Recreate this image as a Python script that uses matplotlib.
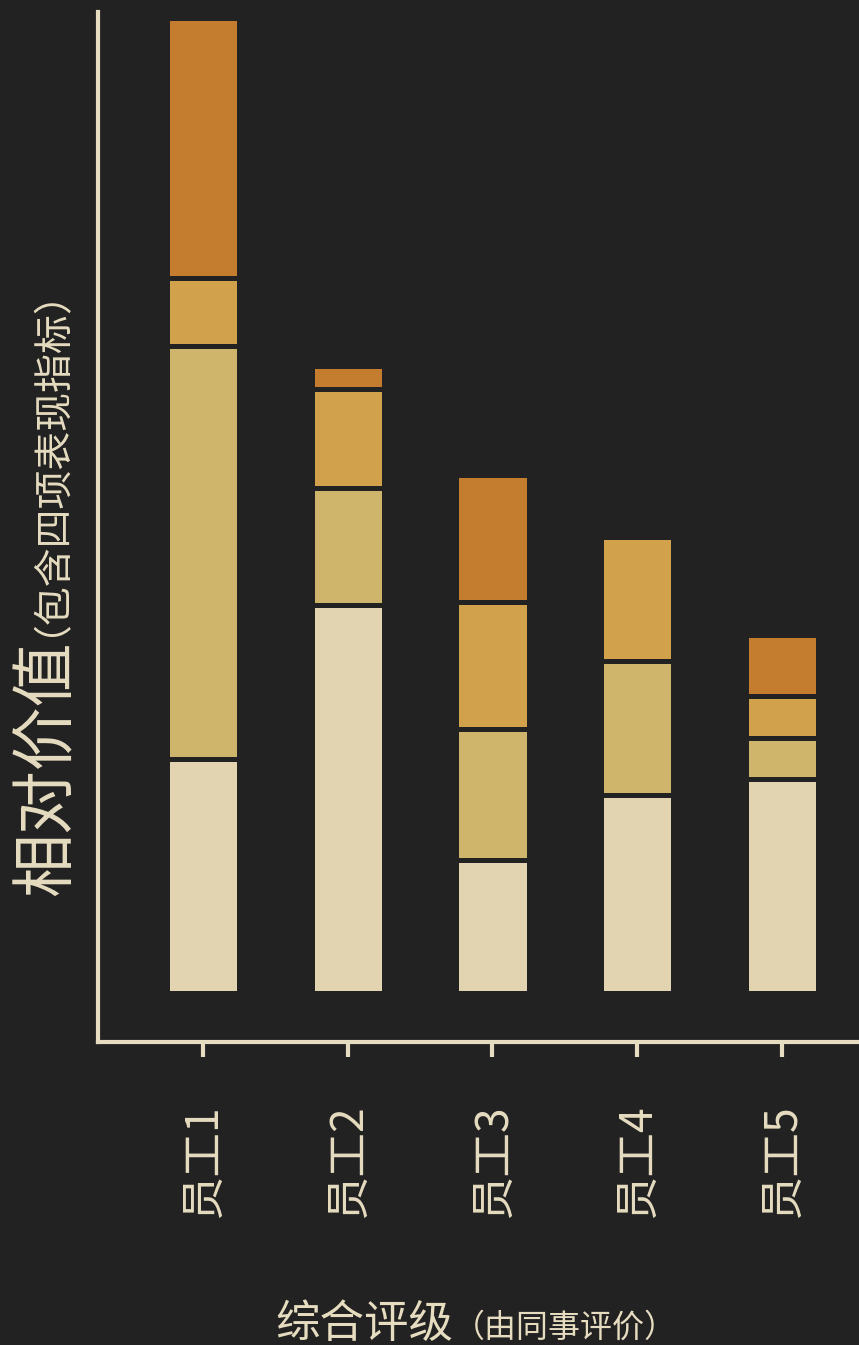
import matplotlib
matplotlib.use('Agg')
import matplotlib.pyplot as plt
import numpy as np

plt.rcParams['font.family'] = ['Noto Sans CJK SC', 'DejaVu Sans']

# data (relative values, four indicators stacked per employee)
employees = ['员工1', '员工2', '员工3', '员工4', '员工5']
part1 = [23.4, 38.8, 13.3, 19.8, 21.4]   # bottom, lightest
part2 = [41.3, 11.7, 13.1, 13.4, 4.1]
part3 = [6.8, 9.9, 12.7, 12.4, 4.2]
part4 = [26.0, 2.3, 12.7, 0.0, 6.1]      # top, orange
parts = [part1, part2, part3, part4]

bg = '#232222'
fg = '#e6dcc0'
colors = ['#e2d4b1', '#cfb56b', '#d1a14b', '#c47d2f']

W, H = 859, 1345
fig = plt.figure(figsize=(W / 100, H / 100), dpi=100)
fig.patch.set_facecolor(bg)
ax = fig.add_axes([98 / W, (H - 1042) / H, 1 - 98 / W, (1042 - 12) / H])
ax.set_facecolor(bg)

x = np.arange(len(employees))
bottom = np.zeros(len(employees))
for vals, c in zip(parts, colors):
    ax.bar(x, vals, bottom=bottom, width=0.5, color=c,
           edgecolor=bg, linewidth=3.6)
    bottom = bottom + np.array(vals)

ax.set_xlim(-0.725, 4.532)
ax.set_ylim(-4.9, 98.1)

for s in ['top', 'right']:
    ax.spines[s].set_visible(False)
for s in ['left', 'bottom']:
    ax.spines[s].set_color(fg)
    ax.spines[s].set_linewidth(3)

ax.set_yticks([])
ax.set_xticks(x)
ax.set_xticklabels(employees, rotation=90, fontsize=32, color=fg)
ax.tick_params(axis='x', length=11, width=3, color=fg, pad=34)

# y label: big part + small part in brackets
yj = 1 - 640 / H
fig.text(65 / W, yj, '相对价值', rotation=90, rotation_mode='anchor',
         ha='right', va='baseline', fontsize=46, color=fg)
fig.text(41 / W, yj + 4 / H, '（包含四项表现指标）', rotation=90, rotation_mode='anchor',
         ha='left', va='baseline', fontsize=28, color=fg)

# x label
xy = 1 - 1337 / H
xj = 453 / W
fig.text(xj, xy, '综合评级', ha='right', va='baseline', fontsize=32, color=fg)
fig.text(xj, xy, '（由同事评价）', ha='left', va='baseline', fontsize=23, color=fg)

plt.savefig('out.png', dpi=100, facecolor=bg)
